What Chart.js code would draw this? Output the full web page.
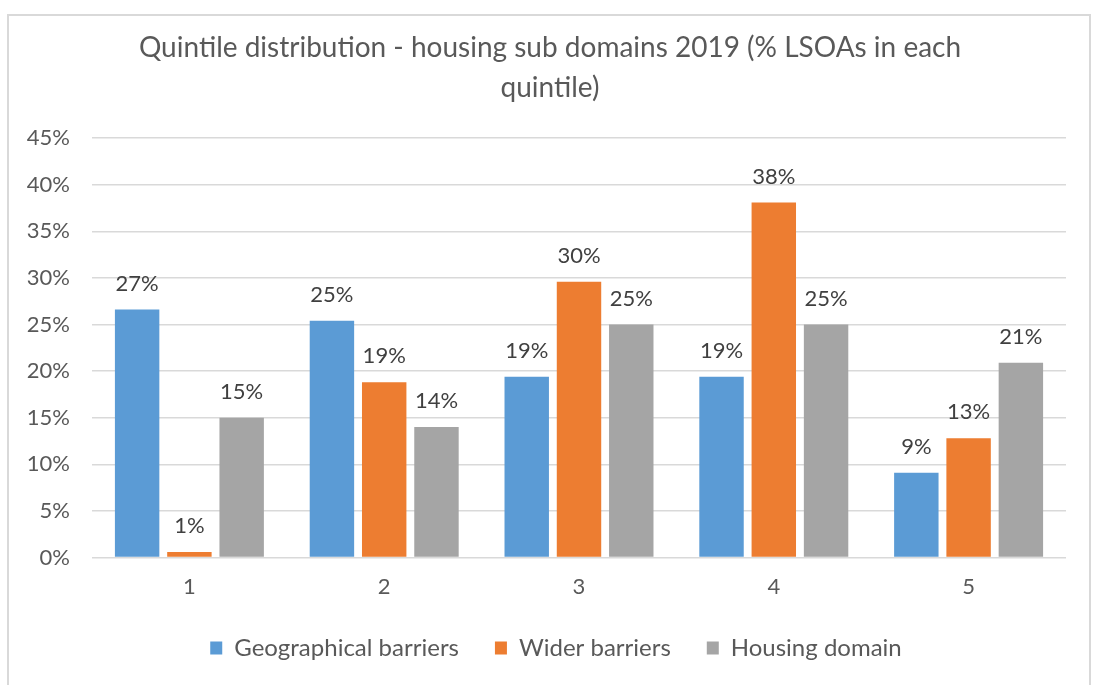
<!DOCTYPE html>
<html>
<head>
<meta charset="utf-8">
<script src="https://cdn.jsdelivr.net/npm/chart.js@4/dist/chart.umd.min.js"></script>
<style>
  html, body { margin: 0; padding: 0; background: #fff; }
  #frame { position: absolute; left: 7px; top: 14px; width: 1084px; height: 700px;
           border: 2px solid #d9d9d9; box-sizing: border-box; }
  #wrap { position: absolute; left: 0; top: 0; width: 1096px; height: 685px; }
</style>
</head>
<body>
<div id="frame"></div>
<div id="wrap"><canvas id="c" width="1096" height="685"></canvas></div>
<script>
// Quintile distribution of LSOAs across housing sub domains, 2019 (values in %)
var quintiles = ["1", "2", "3", "4", "5"];
var geographical = [26.6, 25.4, 19.4, 19.4, 9.1];
var wider = [0.6, 18.8, 29.6, 38.1, 12.8];
var housing = [15.0, 14.0, 25.0, 25.0, 20.9];
var yTicks = [0, 5, 10, 15, 20, 25, 30, 35, 40, 45];

var FONT = "Lato, 'Open Sans', sans-serif";
var TEXT = "#595959";

// value labels above each bar, positioned from the bar elements
var barLabels = {
  id: "barLabels",
  afterLayout: function (chart) {
    // title and legend sit a little right of the plot centre in the original
    chart.titleBlock.left += 34;
    chart.legend.left += 46;
  },
  afterDatasetsDraw: function (chart) {
    var ctx = chart.ctx;
    ctx.save();
    ctx.font = "22px " + FONT;
    ctx.fillStyle = "#404040";
    ctx.textAlign = "center";
    ctx.textBaseline = "middle";
    chart.data.datasets.forEach(function (ds, i) {
      chart.getDatasetMeta(i).data.forEach(function (bar, j) {
        ctx.fillText(Math.round(ds.data[j]) + "%", bar.x, bar.y - 26);
      });
    });
    ctx.restore();
  }
};

new Chart(document.getElementById("c"), {
  type: "bar",
  data: {
    labels: quintiles,
    datasets: [
      { label: "Geographical barriers", data: geographical, backgroundColor: "#5b9bd5" },
      { label: "Wider barriers", data: wider, backgroundColor: "#ed7d31" },
      { label: "Housing domain", data: housing, backgroundColor: "#a5a5a5" }
    ]
  },
  options: {
    responsive: false,
    animation: false,
    categoryPercentage: 0.805,
    barPercentage: 0.85,
    layout: { padding: { left: 0, right: 30, top: 0, bottom: 15 } },
    plugins: {
      title: {
        display: true,
        text: ["Quintile distribution - housing sub domains 2019 (% LSOAs in each", "quintile)"],
        color: TEXT,
        font: { family: FONT, size: 28, weight: "normal", lineHeight: 1.43 },
        padding: { top: 28, bottom: 30 }
      },
      legend: {
        position: "bottom",
        labels: {
          color: TEXT,
          font: { family: FONT, size: 24 },
          boxWidth: 12, boxHeight: 13,
          padding: 36
        }
      },
      tooltip: { enabled: false }
    },
    scales: {
      x: {
        grid: { display: false, drawTicks: true, tickLength: 16 },
        border: { display: false },
        ticks: { color: TEXT, font: { family: FONT, size: 22 }, padding: 0 }
      },
      y: {
        min: 0, max: 45,
        afterBuildTicks: function (s) { s.ticks = yTicks.map(function (v) { return { value: v }; }); },
        grid: { color: "#d9d9d9", lineWidth: 1.5, drawTicks: false },
        border: { display: false },
        ticks: {
          color: TEXT, font: { family: FONT, size: 22 }, padding: 22,
          callback: function (v) { return v + "%"; }
        },
        afterFit: function (s) { s.width = 92; }
      }
    }
  },
  plugins: [barLabels]
});
</script>
</body>
</html>
